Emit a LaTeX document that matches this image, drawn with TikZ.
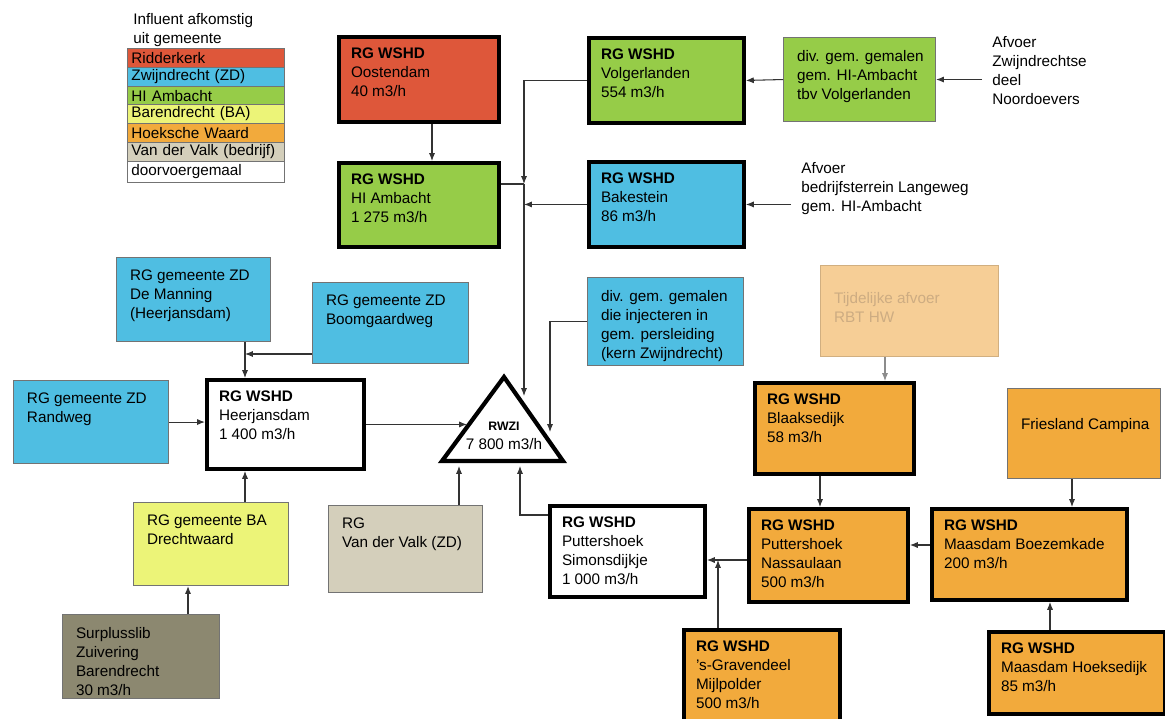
\documentclass[tikz,border=0pt]{standalone}
\usepackage{fontspec}
\setmainfont{Liberation Sans}
\usetikzlibrary{arrows.meta}

\definecolor{rood}{RGB}{222,87,58}
\definecolor{blauw}{RGB}{79,190,226}
\definecolor{groen}{RGB}{150,204,72}
\definecolor{geel}{RGB}{236,244,120}
\definecolor{oranje}{RGB}{242,170,60}
\definecolor{valk}{RGB}{212,207,187}
\definecolor{slib}{RGB}{140,136,112}
\definecolor{licht}{RGB}{246,206,150}
\definecolor{lichttekst}{RGB}{205,172,130}

\newcommand{\px}{0.02cm}

\tikzset{
  blok/.style 2 args={anchor=north west, minimum width=#1*\px, minimum height=#2*\px, inner sep=0pt},
  dik/.style={draw=black, line width=2.2pt},
  dun/.style={draw=black!55, line width=0.6pt},
  tekst/.style={anchor=north west, align=left, inner xsep=14*\px, inner ysep=13*\px, outer sep=0pt},
  inhoud/.style={label={[tekst]north west:{#1}}},
  legrij/.style={draw=black!55, line width=0.5pt, anchor=north west, minimum height=19*\px,
    text width=149*\px, inner xsep=4*\px, inner ysep=0pt, align=left},
  losse/.style={anchor=north west, align=left, inner xsep=10*\px, inner ysep=0pt},
  lijn/.style={draw=black!80, line width=0.6pt},
  pijl/.style={lijn, -{Latex[length=4.5pt,width=3.5pt]}}
}

\begin{document}
\begin{tikzpicture}[x=\px, y=-\px, every node/.append style={font=\fontsize{8.7}{10.8}\selectfont}]
\useasboundingbox (0,0) rectangle (1165,718);

% legenda
\node[anchor=north west, align=left, inner sep=0pt] (legtitel) at (133,13) {Influent afkomstig\\uit gemeente};
\node[legrij, fill=rood] (leg1) at (127,48) {Ridderkerk};
\node[legrij, fill=blauw] (leg2) at (127,67) {Zwijndrecht (ZD)};
\node[legrij, fill=groen] (leg3) at (127,86) {HI Ambacht};
\node[legrij, fill=geel] (leg4) at (127,104) {Barendrecht (BA)};
\node[legrij, fill=oranje] (leg5) at (127,123) {Hoeksche Waard};
\node[legrij, fill=valk] (leg6) at (127,142) {Van der Valk (bedrijf)};
\node[legrij, fill=white, minimum height=21*\px] (leg7) at (127,161) {doorvoergemaal};

% bovenste rij
\node[dik, fill=rood, blok={160}{85}, inhoud={\textbf{RG WSHD}\\Oostendam\\40 m3/h}] (oost) at (337,35) {};
\node[dik, fill=groen, blok={160}{84}, inhoud={\textbf{RG WSHD}\\HI Ambacht\\1 275 m3/h}] (hia) at (337,161) {};
\node[dik, fill=groen, blok={155}{85}, inhoud={\textbf{RG WSHD}\\Volgerlanden\\554 m3/h}] (vol) at (587,36) {};
\node[dun, fill=groen, blok={152}{84}, inhoud={div. gem. gemalen\\gem. HI-Ambacht\\tbv Volgerlanden}] (divhi) at (783,37) {};
\node[dik, fill=blauw, blok={155}{85}, inhoud={\textbf{RG WSHD}\\Bakestein\\86 m3/h}] (bak) at (587,160) {};
\node[losse] (afv1) at (982,36) {Afvoer\\Zwijndrechtse\\deel\\Noordoevers};
\node[losse] (afv2) at (791,162) {Afvoer\\bedrijfsterrein Langeweg\\gem. HI-Ambacht};

% midden
\node[dun, fill=blauw, blok={154}{84}, inhoud={RG gemeente ZD\\De Manning\\(Heerjansdam)}] (dem) at (116,257) {};
\node[dun, fill=blauw, blok={156}{81}, inhoud={RG gemeente ZD\\Boomgaardweg}] (boom) at (312,282) {};
\node[dun, fill=blauw, blok={155}{83}, inhoud={RG gemeente ZD\\Randweg}] (rand) at (13,380) {};
\node[dik, fill=white, blok={157}{89}, inhoud={\textbf{RG WSHD}\\Heerjansdam\\1 400 m3/h}] (hjd) at (205,378) {};
\node[dun, fill=blauw, blok={156}{88}, inhoud={div. gem. gemalen\\die injecteren in\\gem. persleiding\\(kern Zwijndrecht)}] (divzd) at (587,277) {};
\node[draw=licht!85!black, line width=0.4pt, fill=licht, blok={178}{91},
  label={[tekst, inner ysep=27*\px, text=lichttekst]north west:{Tijdelijke afvoer\\RBT HW}}] (tijd) at (820,265) {};
\node[dik, fill=oranje, blok={159}{91}, inhoud={\textbf{RG WSHD}\\Blaaksedijk\\58 m3/h}] (blaak) at (753,381) {};
\node[dun, fill=oranje, blok={153}{90},
  label={[tekst, inner ysep=30*\px]north west:{Friesland Campina}}] (fc) at (1007,388) {};

% RWZI
\coordinate (rwzi-top) at (504,377);
\coordinate (rwzi-rechts) at (563,461);
\coordinate (rwzi-links) at (442,461);
\draw[line width=2.4pt, line join=miter] (rwzi-top) -- (rwzi-rechts) -- (rwzi-links) -- cycle;
\node[align=center, inner sep=0pt] (rwzi) at (504,436) {{\fontsize{7}{8}\selectfont\bfseries RWZI}\\7 800 m3/h};

% onderste rij
\node[dun, fill=geel, blok={155}{83}, inhoud={RG gemeente BA\\Drechtwaard}] (drecht) at (133,502) {};
\node[dun, fill=valk, blok={154}{87}, inhoud={RG\\Van der Valk (ZD)}] (vdv) at (328,505) {};
\node[dun, fill=slib, blok={157}{84}, inhoud={Surplusslib\\Zuivering\\Barendrecht\\30 m3/h}] (surp) at (62,614) {};
\node[dik, fill=white, blok={155}{91}, inhoud={\textbf{RG WSHD}\\Puttershoek\\Simonsdijkje\\1 000 m3/h}] (sim) at (548,504) {};
\node[dik, fill=oranje, blok={159}{93}, inhoud={\textbf{RG WSHD}\\Puttershoek\\Nassaulaan\\500 m3/h}] (nas) at (747,507) {};
\node[dik, fill=oranje, blok={195}{91}, inhoud={\textbf{RG WSHD}\\Maasdam Boezemkade\\200 m3/h}] (boez) at (930,507) {};
\node[dik, fill=oranje, blok={156}{95}, inhoud={\textbf{RG WSHD}\\'s-Gravendeel\\Mijlpolder\\500 m3/h}] (grav) at (682,628) {};
\node[dik, fill=oranje, blok={176}{82}, inhoud={\textbf{RG WSHD}\\Maasdam Hoeksedijk\\85 m3/h}] (hoek) at (987,630) {};

% verbindingen boven
\coordinate (k1) at (524,184);
\coordinate (r1) at (524,396);
\coordinate (a1) at (432,0);
\draw[pijl] (oost.south -| a1) -- (hia.north -| a1);
\draw[pijl] (vol.west) -| (k1);
\draw[lijn] (hia.east |- k1) -- (k1);
\draw[pijl] (bak.west) -- (bak.west -| k1);
\draw[pijl] (k1) -- (r1);
\draw[pijl] (divhi.west) -- (vol.east);
\draw[pijl] (afv1.west |- divhi.east) -- (divhi.east);
\draw[pijl] (afv2.west |- bak.east) -- (bak.east);

% verbindingen midden
\coordinate (k3) at (245,354);
\coordinate (r2) at (467,0);
\coordinate (r3) at (550,432);
\draw[pijl] (dem.south -| k3) -- (hjd.north -| k3);
\draw[pijl] (boom.west |- k3) -- (k3);
\draw[pijl] (rand.east) -- (rand.east -| hjd.west);
\draw[pijl] (hjd.east) -- (hjd.east -| r2);
\draw[pijl] (divzd.west) -| (r3);

% verbindingen onder
\coordinate (a2) at (188,0);
\coordinate (r4) at (459,466);
\coordinate (k5) at (520,515);
\coordinate (r5) at (520,466);
\coordinate (k6) at (718,560);
\coordinate (k7) at (0,545);
\coordinate (a3) at (820,0);
\coordinate (a4) at (885,0);
\coordinate (a5) at (1072,0);
\coordinate (a6) at (1050,0);
\draw[pijl] (drecht.north -| k3) -- (hjd.south -| k3);
\draw[pijl] (surp.north -| a2) -- (drecht.south -| a2);
\draw[pijl] (vdv.north -| r4) -- (r4);
\draw[pijl] (sim.west |- k5) -- (k5) -- (r5);
\draw[pijl] (nas.west |- k6) -- (k6 -| sim.east);
\draw[pijl] (grav.north -| k6) -- (k6);
\draw[pijl] (blaak.south -| a3) -- (nas.north -| a3);
\draw[pijl, draw=black!45] (tijd.south -| a4) -- (blaak.north -| a4);
\draw[pijl] (fc.south -| a5) -- (boez.north -| a5);
\draw[pijl] (hoek.north -| a6) -- (boez.south -| a6);
\draw[pijl] (boez.west |- k7) -- (nas.east |- k7);
\end{tikzpicture}
\end{document}
